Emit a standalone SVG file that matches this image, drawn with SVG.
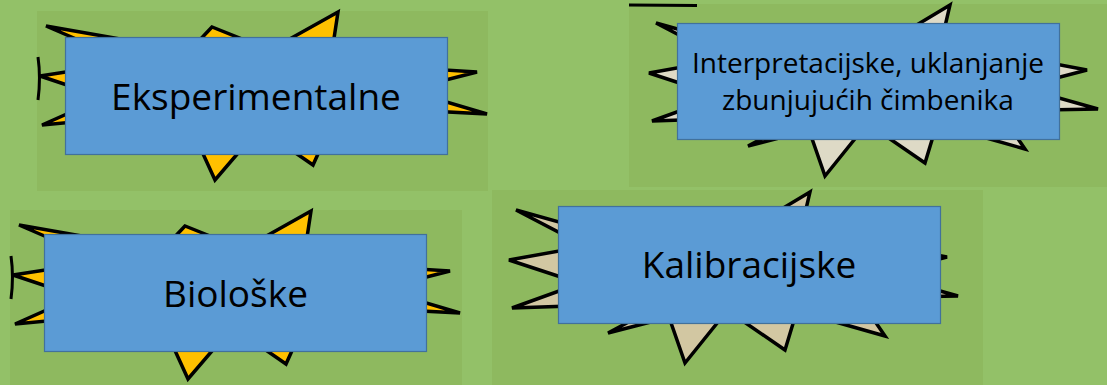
<svg xmlns="http://www.w3.org/2000/svg" xmlns:xlink="http://www.w3.org/1999/xlink" width="1107" height="385" viewBox="0 0 1107 385">
<style>
.panel{fill:#8eb95f}
.box{fill:#5b9bd5;stroke:#41719c;stroke-width:1.2}
.lbl{font-family:"Open Sans","Liberation Sans",sans-serif;fill:#000;text-anchor:middle}
.spk polygon{stroke:#000;stroke-width:3.5;stroke-linejoin:miter}
.edge{fill:none;stroke:#000;stroke-width:3}
</style>
<defs>
<g id="starA" class="spk">
<polygon points="46,26 140,42.5 97,48"/>
<polygon points="40,76 85,69 85,91"/>
<polygon points="42,125 85,106 85,121"/>
<polygon points="212,27 195,45 257,45"/>
<polygon points="338,12 279,45 333,45"/>
<polygon points="477,72 430,69 430,84"/>
<polygon points="487,114 430,97 430,111"/>
<polygon points="215,180 199,145 245,145"/>
<polygon points="313,165 284,145 322,145"/>
<path class="edge" d="M38 57 Q41 78 38 100"/>
</g>
<g id="starB" class="spk">
<polygon points="656,23 710,38 710,51"/>
<polygon points="649,73 710,62 710,93"/>
<polygon points="652,121 710,100 710,119"/>
<polygon points="748,146 778,130 810,130"/>
<polygon points="825,176 809,130 862,130"/>
<polygon points="925,163 877,130 935,130"/>
<polygon points="1025,149 958,130 1012,130"/>
<polygon points="1087,70 1045,62 1045,81"/>
<polygon points="1098,109 1045,94 1045,110"/>
<polygon points="950,5 900,35 943,35"/>
</g>
</defs>
<rect width="1107" height="385" fill="#93c168"/>
<g id="node-eksperimentalne">
<rect class="panel" x="37" y="11" width="451" height="180"/>
<use xlink:href="#starA" href="#starA" fill="#ffc000"/>
<rect class="box" x="65.5" y="37.5" width="382" height="117"/>
<text class="lbl" x="256" y="110" font-size="37">Eksperimentalne</text>
</g>
<g id="node-interpretacijske">
<rect class="panel" x="629" y="4" width="478" height="183"/>
<path class="edge" d="M629 5 L697 5.5"/>
<use xlink:href="#starB" href="#starB" fill="#dedac6"/>
<rect class="box" x="677.5" y="23.5" width="382" height="116"/>
<text class="lbl" x="868" y="73" font-size="28">Interpretacijske, uklanjanje</text>
<text class="lbl" x="868" y="110" font-size="28">zbunjujućih čimbenika</text>
</g>
<g id="node-bioloske">
<rect class="panel" x="10" y="210" width="452" height="175"/>
<use xlink:href="#starA" href="#starA" transform="translate(-27 199)" fill="#ffc000"/>
<rect class="box" x="44.5" y="234.5" width="382" height="117"/>
<text class="lbl" x="235.5" y="307" font-size="37">Biološke</text>
</g>
<g id="node-kalibracijske">
<rect class="panel" x="492" y="190" width="491" height="195"/>
<use xlink:href="#starB" href="#starB" transform="translate(-140 187)" fill="#d2c7a2"/>
<rect class="box" x="558.5" y="206.5" width="382" height="117"/>
<text class="lbl" x="749" y="278" font-size="37">Kalibracijske</text>
</g>
<g id="connectors"/>
</svg>
